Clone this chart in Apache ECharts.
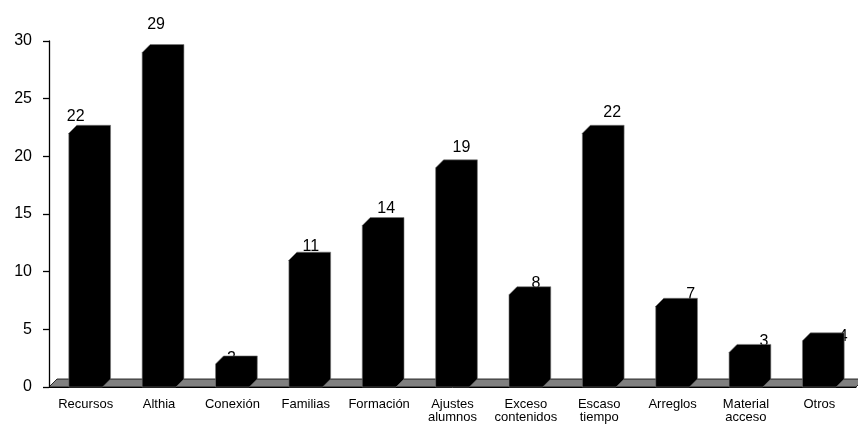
<!DOCTYPE html>
<html lang="es">
<head>
    <meta charset="UTF-8">
    <title>Dificultades</title>
    <script src="https://cdn.jsdelivr.net/npm/echarts@6/dist/echarts.min.js"></script>
    <style>
        html, body { margin: 0; padding: 0; background: #fff; }
        #chart { width: 858px; height: 424px; }
    </style>
</head>
<body>
    <div id="chart"></div>
    <script>
        // datos
        var categories = ['Recursos', 'Althia', 'Conexión', 'Familias', 'Formación', 'Ajustes\nalumnos',
            'Exceso\ncontenidos', 'Escaso\ntiempo', 'Arreglos', 'Material\nacceso', 'Otros'];
        var values = [22, 29, 2, 11, 14, 19, 8, 22, 7, 3, 4];
        var yTicks = { min: 0, max: 30, interval: 5 };

        // desplazamiento de las etiquetas (como las coloca Excel)
        var labelDx = [-10, -3, -1, 5, 7, 9, 10, 13, 18, 18, 24];
        var labelDy = [-17, -28, -5, -14, -17, -20, -11, -21, -12, -11, -4];

        var depth = 8;
        var font = "'Liberation Sans', Arial, sans-serif";

        var chart = echarts.init(document.getElementById('chart'));

        function renderFloor(params, api) {
            var c = params.coordSys;
            var yb = c.y + c.height;
            return {
                type: 'polygon',
                shape: { points: [[c.x, yb], [c.x + depth, yb - depth], [c.x + c.width + depth, yb - depth], [c.x + c.width, yb]] },
                style: { fill: '#808080', stroke: '#000', lineWidth: 0.8 }
            };
        }

        function renderBar(params, api) {
            var i = api.value(0);
            var top = api.coord([i, api.value(1)]);
            var base = api.coord([i, 0]);
            var w = api.size([1, 0])[0] * 0.46;
            var x0 = top[0] - w / 2, x1 = top[0] + w / 2;
            var vy = top[1], y0 = base[1];
            return {
                type: 'group',
                children: [{
                    type: 'text',
                    style: {
                        text: String(api.value(1)),
                        x: top[0] + labelDx[i],
                        y: vy + labelDy[i],
                        fill: '#000',
                        fontSize: 16,
                        fontFamily: font,
                        align: 'center',
                        verticalAlign: 'middle'
                    }
                }, {
                    type: 'polygon',
                    shape: {
                        points: [[x0, y0], [x0, vy], [x0 + depth, vy - depth], [x1 + depth, vy - depth],
                            [x1 + depth, y0 - depth], [x1, y0]]
                    },
                    style: { fill: '#000', stroke: '#777', lineWidth: 0.6 }
                }]
            };
        }

        chart.setOption({
            animation: false,
            grid: { left: 49, right: 2, top: 41, bottom: 36 },
            xAxis: {
                type: 'category',
                data: categories,
                axisLine: { lineStyle: { color: '#000', width: 1 } },
                axisTick: { length: 5, lineStyle: { color: '#000' } },
                axisLabel: { color: '#000', fontSize: 13, fontFamily: font, margin: 11, lineHeight: 13, interval: 0 }
            },
            yAxis: {
                type: 'value',
                min: yTicks.min,
                max: yTicks.max,
                interval: yTicks.interval,
                splitLine: { show: false },
                axisLine: { show: true, lineStyle: { color: '#000', width: 1.3 } },
                axisTick: { show: true, length: 6, lineStyle: { color: '#000', width: 1.3 } },
                axisLabel: { color: '#000', fontSize: 16, fontFamily: font, margin: 17 }
            },
            series: [{
                type: 'custom',
                renderItem: renderFloor,
                data: [[0, 0]],
                z: 1,
                silent: true
            }, {
                type: 'custom',
                renderItem: renderBar,
                encode: { x: 0, y: 1 },
                data: values.map(function (v, i) { return [i, v]; }),
                z: 3
            }]
        });
    </script>
</body>
</html>
